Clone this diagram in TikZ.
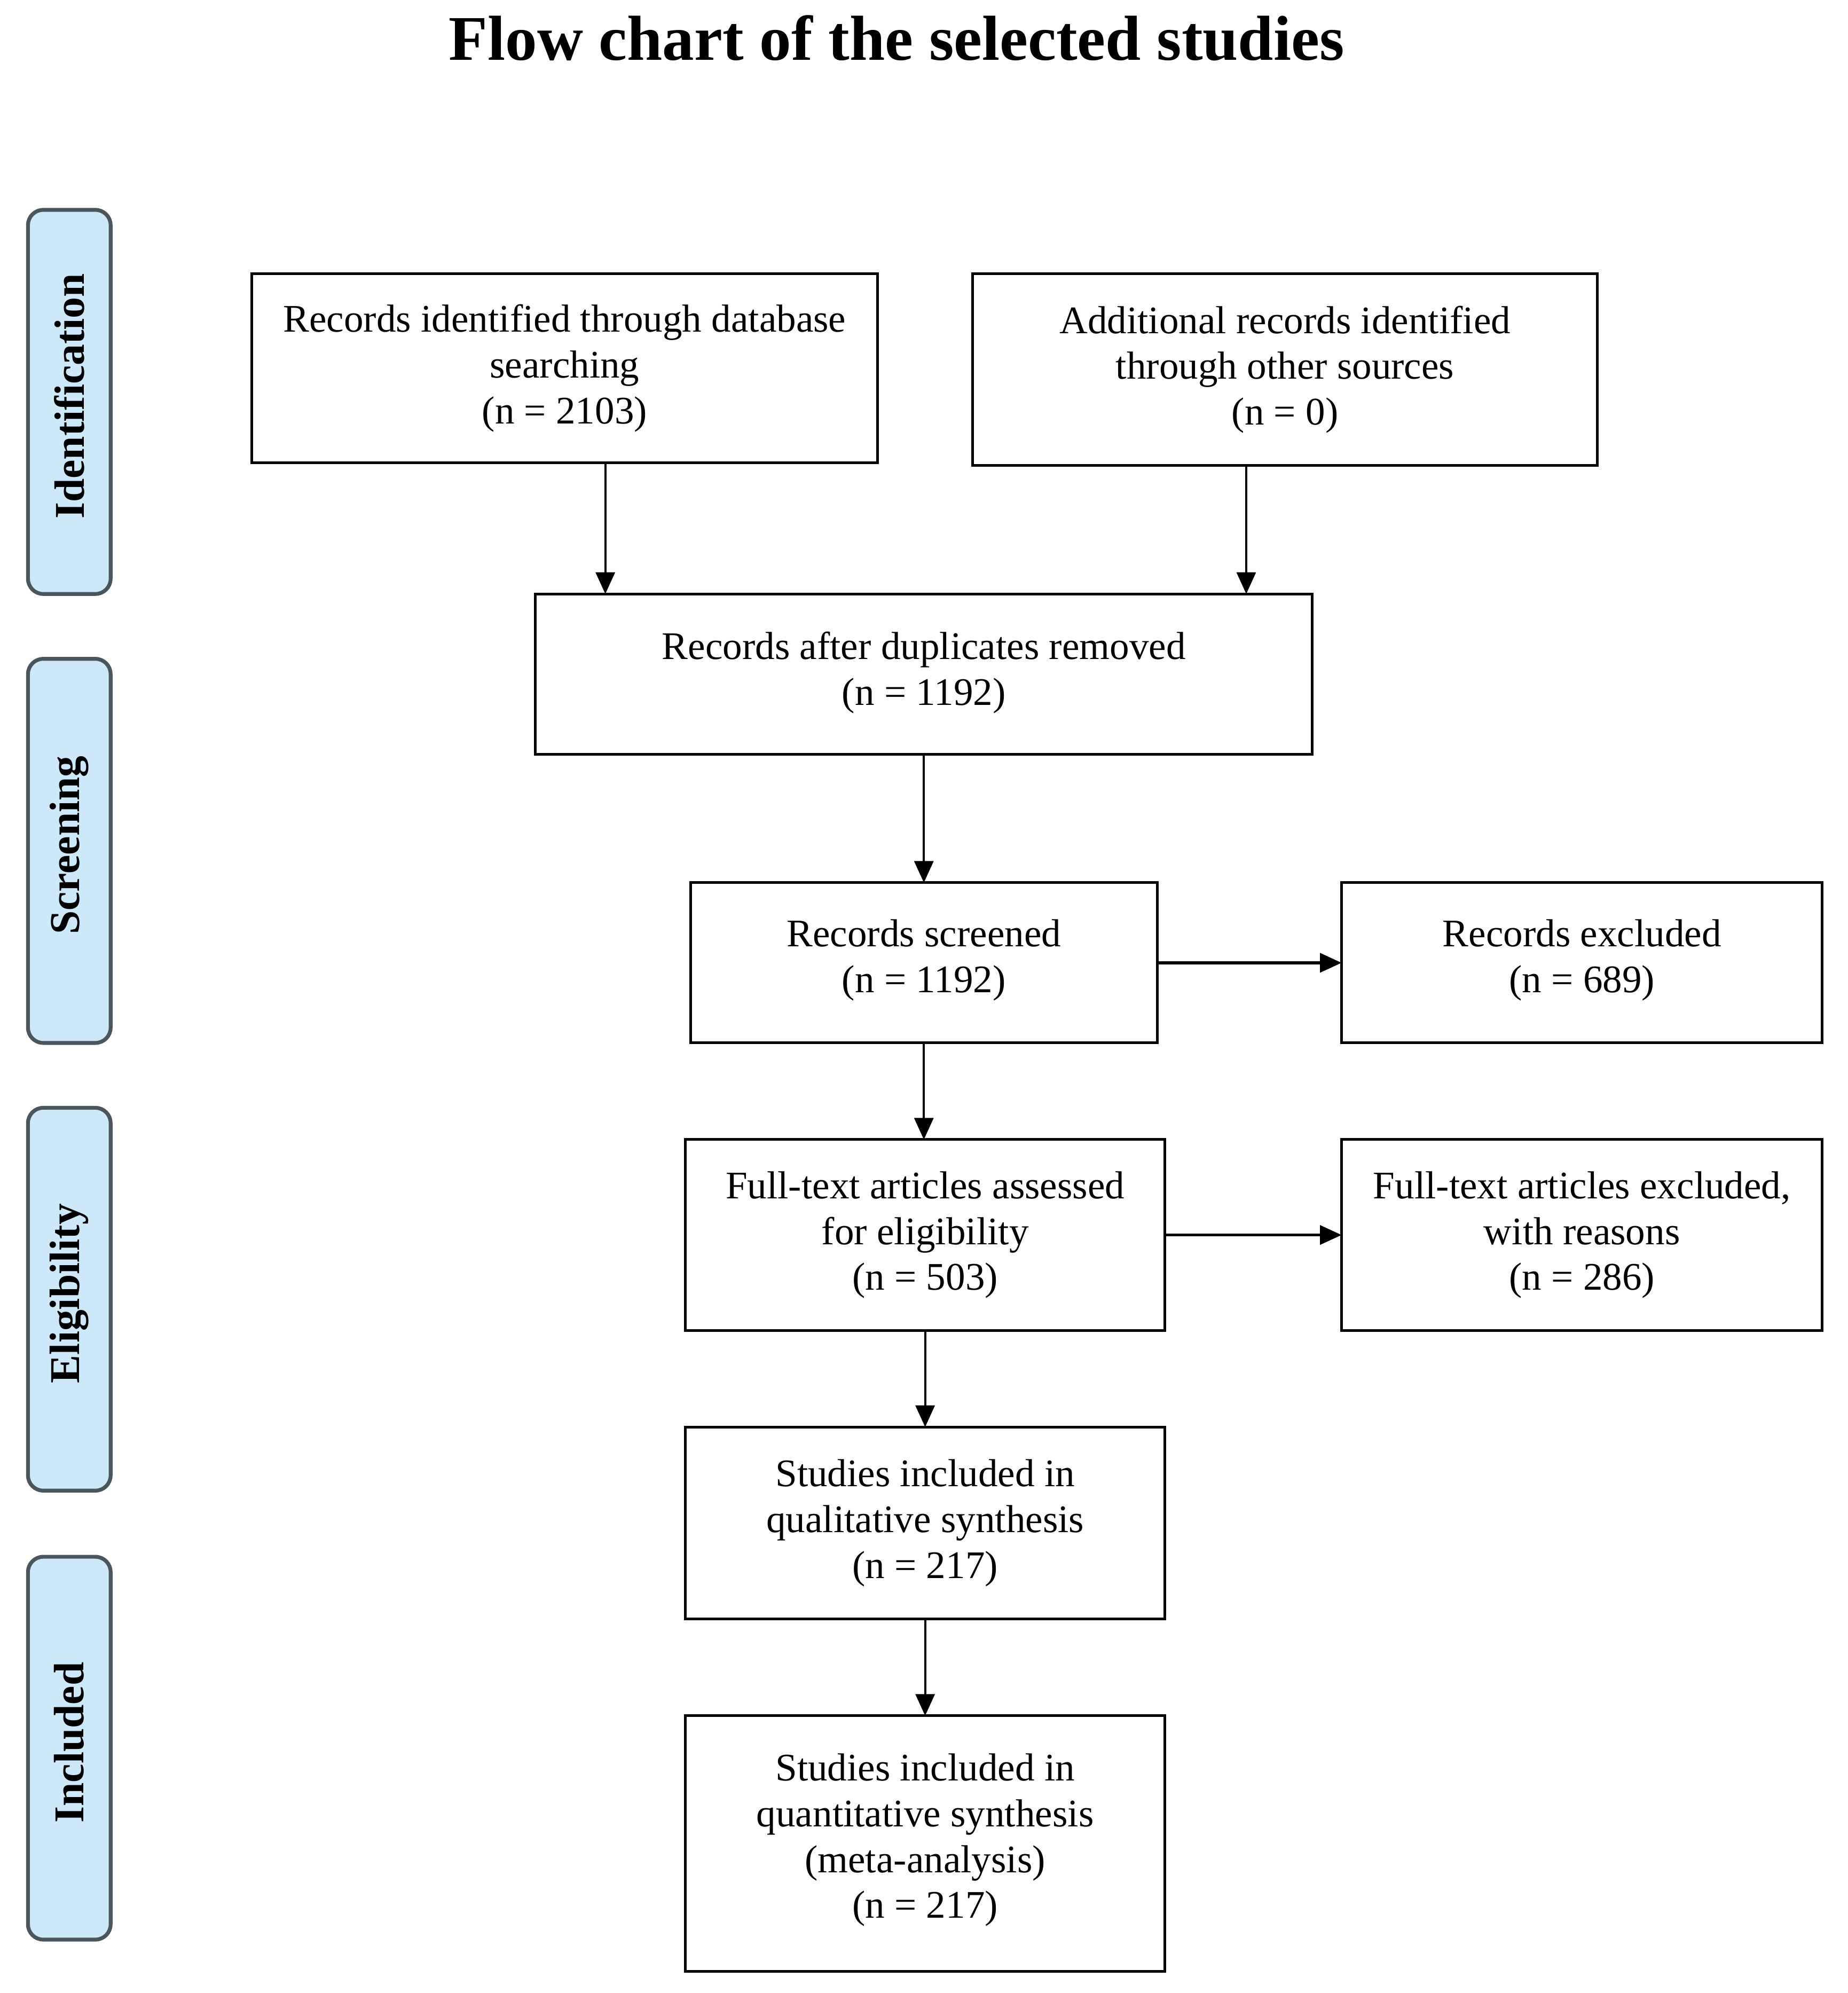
\documentclass[tikz,border=0pt]{standalone}
\usepackage{fontspec}
\setmainfont{Liberation Serif}
\usetikzlibrary{arrows.meta}
\definecolor{lblfill}{HTML}{CDE8F8}
\definecolor{lbldraw}{HTML}{4A565C}
\tikzset{
  flowbox/.style={draw=black, line width=2.1pt, fill=white, inner sep=0pt, outer sep=0pt,
    align=center, font=\fontsize{30.7}{36}\selectfont},
  phase/.style={draw=lbldraw, line width=3pt, fill=lblfill, rounded corners=12pt, rotate=90,
    inner sep=0pt, outer sep=0pt, minimum height=65pt,
    font=\bfseries\fontsize{33.4}{38}\selectfont},
  arr/.style={line width=1.8pt, -{Triangle[length=17pt,width=15pt]}},
  harr/.style={line width=2.2pt, -{Triangle[length=17pt,width=15pt]}},
}
\begin{document}
\begin{tikzpicture}[x=1pt,y=-1pt]
\useasboundingbox[fill=white] (0,0) rectangle (1453,1567);
\node[font=\bfseries\fontsize{50}{56}\selectfont] (title) at (705,30) {Flow chart of the selected studies};

\node[phase, minimum width=302pt] (pid) at (54.5,316) {\hspace*{9pt}Identification};
\node[phase, minimum width=302pt] (psc) at (54.5,669) {\hspace*{9pt}Screening};
\node[phase, minimum width=301pt] (pel) at (54.5,1021.5) {\hspace*{9pt}Eligibility};
\node[phase, minimum width=301pt] (pin) at (54.5,1374.5) {\hspace*{9pt}Included};

\node[flowbox, minimum width=492pt, minimum height=149pt] (A) at (444,289.5)
  {Records identified through database\\searching\\(n = 2103)};
\node[flowbox, minimum width=491pt, minimum height=151pt] (B) at (1010.5,290.5)
  {Additional records identified\\through other sources\\(n = 0)};
\node[flowbox, minimum width=611pt, minimum height=126pt] (C) at (726.5,530)
  {Records after duplicates removed\\(n = 1192)\\[-27pt]};
\node[flowbox, minimum width=367pt, minimum height=126pt] (D) at (726.5,757)
  {Records screened\\(n = 1192)\\[-25pt]};
\node[flowbox, minimum width=378pt, minimum height=126pt] (E) at (1244,757)
  {Records excluded\\(n = 689)\\[-25pt]};
\node[flowbox, minimum width=377pt, minimum height=150pt] (F) at (727.5,971)
  {Full-text articles assessed\\for eligibility\\(n = 503)};
\node[flowbox, minimum width=378pt, minimum height=150pt] (G) at (1244,971)
  {Full-text articles excluded,\\with reasons\\(n = 286)};
\node[flowbox, minimum width=377pt, minimum height=151pt] (H) at (727.5,1197.5)
  {Studies included in\\qualitative synthesis\\(n = 217)};
\node[flowbox, minimum width=377pt, minimum height=201pt] (I) at (727.5,1449.5)
  {Studies included in\\quantitative synthesis\\(meta-analysis)\\(n = 217)\\[-24pt]};

\coordinate (a1) at (476,0);
\coordinate (b1) at (980,0);
\draw[arr] (A.south -| a1) -- (C.north -| a1);
\draw[arr] (B.south -| b1) -- (C.north -| b1);
\draw[arr] (C.south) -- (D.north);
\draw[harr] (D.east) -- (E.west);
\draw[arr] (D.south) -- (F.north -| D.south);
\draw[harr] (F.east) -- (G.west);
\draw[arr] (F.south) -- (H.north);
\draw[arr] (H.south) -- (I.north);
\end{tikzpicture}
\end{document}
